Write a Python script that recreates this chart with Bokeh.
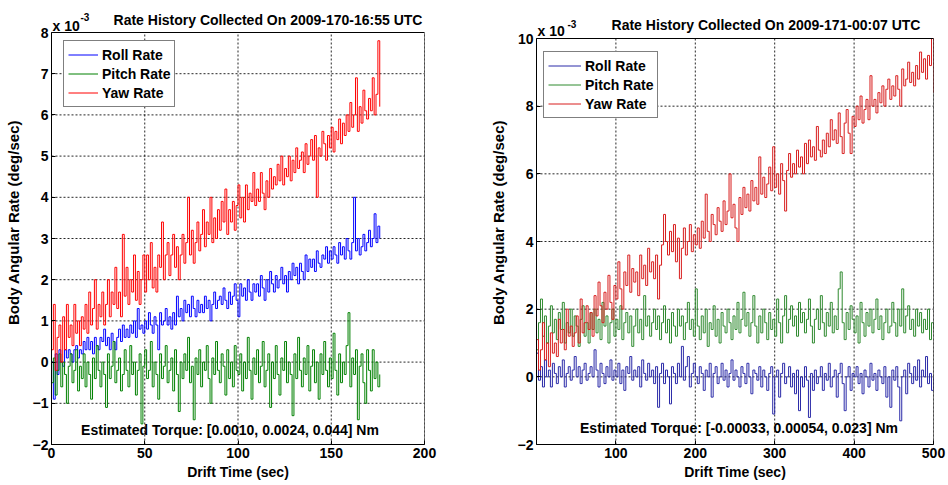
from bokeh.plotting import figure
from bokeh.models import Label, FixedTicker
from bokeh.layouts import row
from bokeh.embed import file_html
from bokeh.resources import INLINE

FONT = "Liberation Sans"

# ---------------- left panel (2009-170-16:55), values in 1e-3 deg/sec ----------------
left_title = "Rate History Collected On 2009-170-16:55 UTC"
left_torque = "Estimated Torque: [0.0010, 0.0024, 0.044] Nm"
left_time = list(range(0, 177))
left_roll = [
    0.0, -0.9, 0.2, -0.3, 0.3, 0.0, -0.1, 0.3, 0.1, 0.3,
    0.2, 0.0, 0.3, 0.4, 0.1, 0.3, 0.2, 0.5, 0.3, 0.6,
    0.3, 0.5, 0.2, 0.6, 0.4, 0.3, 0.6, 0.5, 0.8, 0.4,
    0.6, 0.3, 0.7, 0.5, 0.3, 0.6, 0.8, 0.5, 0.9, 0.6,
    0.8, 0.6, 0.9, 0.7, 1.0, 0.6, 1.3, 0.8, 0.9, 0.7,
    1.0, 0.8, 1.2, 0.9, 0.7, 1.1, 0.9, 0.3, 1.2, 0.9,
    1.0, 1.3, 0.9, 1.1, 0.8, 1.2, 0.9, 1.6, 1.1, 1.3,
    1.0, 1.5, 1.2, 1.4, 1.1, 1.6, 1.3, 1.1, 1.5, 1.2,
    1.4, 1.2, 1.6, 1.3, 1.5, 1.0, 1.4, 1.7, 1.3, 1.5,
    1.6, 1.4, 1.8, 1.5, 1.3, 1.7, 1.4, 1.6, 1.9, 1.5,
    1.1, 1.9, 1.6, 1.8, 1.5, 2.0, 1.7, 1.5, 1.9, 1.7,
    1.9, 1.6, 2.1, 1.8, 1.5, 2.0, 1.7, 2.2, 1.9, 1.7,
    2.1, 1.8, 2.0, 2.3, 1.9, 2.1, 1.7, 2.2, 2.0, 2.4,
    2.1, 2.3, 1.9, 2.4, 2.2, 2.0, 2.6, 2.2, 2.5, 2.3,
    2.5, 2.2, 2.7, 2.4, 2.3, 2.6, 2.5, 2.8, 2.4, 2.7,
    2.5, 2.8, 2.6, 2.4, 2.9, 2.6, 2.8, 2.5, 3.0, 2.7,
    2.5, 2.9, 4.0, 2.7, 3.0, 2.6, 2.8, 3.1, 2.7, 2.9,
    3.2, 2.8, 3.0, 3.6, 2.9, 3.3, 3.0,
]
left_pitch = [
    -0.5, 0.1, -0.8, -0.2, 0.2, -0.6, 0.0, -0.3, -1.0, -0.1,
    0.2, -0.5, -0.2, 0.3, -0.7, -0.1, -0.4, 0.2, -0.6, 0.0,
    -0.3, -0.9, 0.1, -0.4, 0.4, -0.2, -0.6, 0.0, -0.3, -1.1,
    0.2, -0.4, -0.1, 0.5, -0.5, -0.2, 0.1, -0.7, -0.3, 0.3,
    -0.2, -0.6, 0.4, -0.3, 0.0, -0.8, -0.2, 0.2, -1.5, -0.1,
    0.3, -0.4, -0.2, 0.5, -0.6, 0.0, -0.3, -0.9, 0.2, -0.4,
    -0.1, 0.4, -0.5, -0.2, 0.1, -0.7, 0.3, -0.3, -1.2, 0.0,
    -0.4, 0.2, -0.2, 0.6, -0.5, -0.1, -1.4, 0.1, -0.3, 0.3,
    -0.6, 0.0, -0.2, 0.4, -0.4, -1.0, 0.1, -0.3, 0.5, -0.2,
    -0.5, 0.2, -0.1, -0.8, 0.3, -0.4, 0.0, -0.6, 0.4, -0.2,
    -0.3, 0.2, -0.7, 0.0, -0.4, 0.6, -0.2, -0.9, 0.1, -0.3,
    0.3, -0.5, -0.1, 0.5, -0.6, -0.2, 0.2, -1.1, 0.0, -0.4,
    0.4, -0.3, -0.8, 0.1, -0.2, 0.5, -0.5, 0.0, -0.3, -1.3,
    0.2, -0.4, 0.6, -0.2, -0.6, 0.1, -0.3, 0.4, -0.7, -0.1,
    0.3, -0.5, 0.0, -0.9, 0.2, -0.3, 0.5, -0.2, -0.6, 0.1,
    -0.4, 0.7, -0.2, -0.8, 0.2, -0.5, 0.0, -0.3, 0.4, 1.2,
    -0.6, 0.1, -0.3, 0.3, -1.4, -0.1, 0.2, -0.5, -1.0, 0.3,
    -0.2, -0.7, 0.3, -0.4, 0.0, -0.6, -0.3,
]
left_yaw = [
    0.3, 1.4, -0.2, 0.6, 0.9, 0.0, 1.1, 0.3, 1.4, 0.6,
    0.9, 0.4, 1.4, 0.7, 1.0, 0.4, 1.1, 0.8, 1.4, 0.7,
    1.7, 0.9, 1.3, 2.0, 0.8, 1.4, 1.1, 1.7, 0.9, 1.4,
    2.0, 1.1, 1.7, 1.4, 2.3, 1.3, 1.7, 1.1, 3.1, 1.6,
    2.3, 1.4, 2.0, 1.7, 2.6, 1.5, 2.2, 1.4, 2.0, 2.6,
    1.7, 2.6, 2.0, 2.9, 1.8, 2.3, 1.7, 2.6, 2.3, 3.4,
    2.0, 2.6, 2.9, 2.1, 2.6, 3.1, 2.3, 2.8, 2.0, 2.6,
    3.1, 2.4, 2.9, 4.0, 2.6, 3.2, 2.4, 2.9, 3.4, 2.7,
    3.1, 3.7, 2.8, 3.4, 3.1, 4.0, 2.9, 3.5, 3.0, 3.7,
    3.2, 3.9, 3.4, 4.2, 3.1, 3.7, 3.4, 3.9, 3.2, 3.8,
    4.3, 3.5, 4.0, 3.4, 4.3, 3.7, 4.1, 3.9, 4.6, 3.8,
    4.2, 3.9, 4.6, 4.1, 3.7, 4.4, 4.0, 4.7, 4.2, 4.5,
    4.3, 4.8, 4.4, 5.0, 4.3, 4.7, 4.5, 5.0, 4.4, 4.9,
    4.6, 5.2, 4.7, 4.9, 5.1, 4.6, 5.3, 4.8, 5.0, 5.4,
    4.9, 5.5, 4.0, 5.2, 5.0, 5.6, 5.3, 4.9, 5.5, 5.2,
    5.7, 5.1, 5.6, 5.4, 5.9, 5.3, 5.8, 5.5, 6.0, 5.6,
    6.3, 5.7, 6.0, 6.9, 5.6, 6.2, 5.8, 6.6, 6.1, 5.9,
    6.4, 6.1, 6.9, 6.0, 6.5, 7.8, 6.2,
]
left_xticks = [0, 50, 100, 150, 200]
left_yticks = [-2, -1, 0, 1, 2, 3, 4, 5, 6, 7, 8]

# ---------------- right panel (2009-171-00:07), values in 1e-3 deg/sec ----------------
right_title = "Rate History Collected On 2009-171-00:07 UTC"
right_torque = "Estimated Torque: [-0.00033, 0.00054, 0.023] Nm"
right_time = [i * 2.5 for i in range(201)]
right_roll = [
    0.7, -0.1, 0.3, -0.3, 0.5, 0.0, 0.2, -0.3, 0.4, 0.1,
    -0.2, 0.3, 0.0, 0.5, -0.3, 0.1, 0.3, -0.1, 0.2, 0.6,
    0.0, 0.3, -0.2, 0.2, 0.4, -0.1, 0.1, 0.3, 0.0, 0.8,
    0.2, -0.3, 0.4, 0.1, -0.2, 0.3, 0.0, 0.5, -0.1, 0.2,
    0.0, 0.4, -0.2, 0.2, -0.4, 0.3, 0.1, 0.6, -0.1, 0.2,
    0.0, 0.3, -0.3, 0.5, 0.1, -0.1, 0.4, 0.0, 0.2, -0.2,
    0.3, -0.9, 0.1, 0.4, -0.2, 0.2, 0.0, -0.8, 0.3, 0.1,
    -0.2, 0.4, 0.0, 0.9, -0.1, 0.3, 0.6, -0.3, 0.1, 0.4,
    0.0, -0.2, 0.3, 0.1, -0.4, 0.2, 0.0, 0.4, -0.6, 0.1,
    0.3, -0.2, 0.0, 0.4, -0.1, 0.2, -0.3, 0.1, 0.5, -0.1,
    0.2, 0.0, -0.3, 0.3, 0.1, -0.2, 0.4, 0.0, -0.5, 0.2,
    0.1, -0.1, 0.3, -0.3, 0.2, 0.0, -0.4, 0.1, 0.3, -1.1,
    0.0, 0.2, -0.6, 0.1, 0.4, -0.2, 0.0, 0.3, -0.3, 0.1,
    -0.5, 0.2, -1.0, 0.0, -0.3, 0.3, -0.1, -1.2, 0.1, -0.4,
    0.2, -0.2, 0.0, 0.3, -0.4, 0.1, -0.1, 0.4, -0.3, 0.0,
    0.2, -0.6, 0.1, 0.4, -0.2, -1.0, 0.0, 0.3, -0.4, 0.1,
    0.0, 0.3, -0.2, 0.1, -0.5, 0.2, 0.0, -0.3, 0.4, -0.1,
    0.1, -0.4, 0.2, 0.0, -0.2, 0.3, -0.6, 0.0, -0.9, 0.2,
    -0.1, 0.3, -0.3, -1.3, 0.0, 0.2, -0.5, 0.4, 0.1, -0.2,
    0.3, -0.1, 0.5, -0.3, 0.2, 0.0, 0.6, -0.2, 0.1, -0.4,
    0.0,
]
right_pitch = [
    0.8, 1.6, 2.3, 1.2, 1.8, 1.0, 1.5, 2.1, 1.3, 1.7,
    1.1, 1.9, 1.4, 2.2, 1.0, 1.6, 1.3, 2.0, 1.2, 1.8,
    1.5, 0.9, 1.7, 2.1, 1.2, 1.6, 1.0, 1.9, 1.4, 2.0,
    1.3, 1.7, 1.1, 2.2, 1.5, 1.8, 1.0, 1.6, 2.0, 1.2,
    1.7, 1.4, 2.1, 1.1, 1.6, 1.9, 1.3, 1.8, 0.9, 1.5,
    2.0, 1.3, 1.7, 1.1, 2.4, 1.5, 1.8, 1.2, 1.6, 2.0,
    1.4, 1.8, 1.1, 1.6, 2.1, 1.3, 1.7, 1.0, 1.9, 1.5,
    1.2, 2.0, 1.5, 1.8, 1.1, 1.6, 2.2, 1.4, 1.7, 1.2,
    2.6, 1.5, 1.1, 1.8, 1.3, 2.0, 0.9, 1.6, 1.4, 2.1,
    1.2, 1.7, 1.0, 1.9, 1.5, 1.3, 2.0, 1.6, 1.1, 1.8,
    1.4, 2.2, 1.3, 1.7, 2.5, 1.5, 1.9, 1.2, 1.6, 2.4,
    1.5, 1.0, 1.8, 1.3, 2.0, 1.6, 1.1, 1.9, 1.4, 1.7,
    1.2, 2.3, 1.6, 1.0, 1.8, 2.4, 1.3, 1.7, 2.1, 1.5,
    1.8, 1.2, 2.2, 1.6, 1.9, 1.3, 1.7, 2.3, 1.5, 1.0,
    1.7, 2.0, 1.4, 2.4, 1.6, 1.2, 1.9, 1.5, 2.2, 1.3,
    1.8, 1.4, 2.6, 3.1, 1.6, 1.1, 1.9, 1.4, 2.1, 1.7,
    1.3, 1.8, 1.0, 2.2, 1.6, 1.2, 1.9, 1.5, 2.0, 1.3,
    1.7, 2.3, 1.4, 1.8, 1.1, 1.6, 2.0, 1.3, 1.5, 2.2,
    1.6, 1.2, 2.0, 1.5, 2.6, 1.3, 1.8, 2.1, 1.4, 1.7,
    1.2, 2.0, 1.5, 1.9, 1.3, 1.7, 1.4, 2.0, 1.1, 1.6,
    1.4,
]
right_yaw = [
    1.1, 0.2, 0.8, 1.6, 0.5, 1.0, 0.3, 1.3, 0.7, 1.0,
    0.6, 1.7, 1.0, 1.4, 0.8, 2.0, 1.2, 1.5, 0.9, 1.3,
    1.8, 1.0, 2.3, 1.3, 1.6, 2.1, 1.4, 1.9, 1.2, 2.4,
    1.8, 2.8, 2.1, 1.6, 2.5, 2.0, 3.0, 2.2, 1.7, 2.7,
    2.3, 3.4, 2.6, 2.0, 3.1, 2.7, 3.6, 2.5, 3.2, 2.8,
    3.1, 2.4, 3.6, 2.9, 3.3, 2.7, 3.8, 3.1, 3.4, 2.9,
    3.6, 2.3, 3.3, 3.9, 4.8, 4.0, 3.6, 4.3, 3.7, 4.5,
    3.4, 4.1, 2.9, 3.8, 4.4, 3.6, 4.0, 4.5, 3.7, 4.2,
    3.9, 4.4, 3.8, 4.6, 4.1, 5.4, 4.3, 4.0, 4.8, 4.5,
    4.2, 5.0, 4.6, 4.3, 5.2, 4.5, 4.9, 6.0, 4.7, 5.1,
    4.4, 4.0, 5.3, 4.8, 5.6, 5.0, 5.4, 4.9, 5.8, 5.2,
    5.6, 5.1, 6.5, 5.4, 5.9, 5.3, 5.7, 6.2, 5.5, 6.8,
    5.6, 6.0, 5.4, 6.3, 5.8, 4.9, 6.1, 6.6, 5.9, 6.3,
    6.0, 6.7, 6.2, 6.5, 6.0, 6.9, 6.3, 7.0, 6.5, 6.8,
    6.4, 7.4, 6.7, 6.5, 7.0, 6.6, 7.2, 6.8, 7.6, 7.0,
    7.3, 6.9, 7.8, 7.1, 6.6, 7.5, 7.9, 7.2, 6.6, 7.7,
    7.4, 8.0, 7.6, 8.3, 7.5, 7.9, 8.2, 7.6, 8.9, 8.0,
    8.2, 7.8, 8.4, 8.1, 8.6, 8.0, 8.5, 8.8, 8.2, 8.6,
    8.3, 8.9, 8.5, 8.0, 9.1, 8.6, 8.8, 9.3, 8.7, 9.0,
    8.6, 9.2, 8.8, 9.6, 9.0, 9.4, 8.8, 9.5, 9.2, 10.0,
    8.4,
]
right_xticks = [100, 200, 300, 400, 500]
right_yticks = [-2, 0, 2, 4, 6, 8, 10]

series_names = ["Roll Rate", "Pitch Rate", "Yaw Rate"]
left_colors = ["#0000ff", "#008000", "#ff0000"]
right_colors = ["#2a2aa8", "#2f8a2f", "#d81e1e"]

FIG_H = 485       # figures start at page y 0 (Bokeh's page has no body margin)


def make_panel(time, series, colors, xr, yr, xticks, yticks, title, torque,
               fig_x0, width, box_l, box_r, box_t, box_b, legend_xy, glyph_w,
               title_dx, title_base, torque_dx, torque_dy, x10_dx, x10_base,
               sup_dx, sup_base):
    # geometry in page pixels; the frame also covers the header strip above
    # the axes box (so header texts are not clipped); the x axis sits below
    ypp = (yr[1] - yr[0]) / (box_b - box_t)
    y_top = yr[1] + box_t * ypp
    p = figure(width=width, height=FIG_H, x_range=xr, y_range=(yr[0], y_top),
               output_backend="svg", toolbar_location=None,
               min_border_left=box_l - fig_x0,
               min_border_right=fig_x0 + width - box_r,
               min_border_top=0, min_border_bottom=FIG_H - box_b)
    p.background_fill_color = "white"
    p.border_fill_color = "white"
    p.outline_line_color = None
    p.grid.visible = False

    # dotted grid
    p.segment(x0=xticks, y0=[yr[0]] * len(xticks), x1=xticks, y1=[yr[1]] * len(xticks),
              line_color="black", line_dash="2 2", line_width=1, line_alpha=0.85)
    p.segment(x0=[xr[0]] * len(yticks), y0=yticks, x1=[xr[1]] * len(yticks), y1=yticks,
              line_color="black", line_dash="2 2", line_width=1, line_alpha=0.85)

    p.xaxis.ticker = FixedTicker(ticks=xticks)
    p.yaxis.ticker = FixedTicker(ticks=yticks)
    p.yaxis.bounds = (yr[0], yr[1])
    for ax in (p.xaxis[0], p.yaxis[0]):
        ax.axis_line_color = "black"
        ax.major_tick_in = 4
        ax.major_tick_out = 0
        ax.minor_tick_line_color = None
        ax.major_tick_line_color = "black"
        ax.major_label_text_font = FONT
        ax.major_label_text_font_size = "14px"
        ax.major_label_text_font_style = "bold"
        ax.major_label_text_color = "black"
        ax.major_label_text_line_height = 1.0
        ax.axis_label_text_font = FONT
        ax.axis_label_text_font_style = "bold"
        ax.axis_label_text_color = "black"
        ax.axis_label_text_line_height = 1.0
    p.xaxis.major_label_standoff = 3
    p.yaxis.major_label_standoff = 3
    p.xaxis.axis_label = "Drift Time (sec)"
    p.xaxis.axis_label_text_font_size = "14px"
    p.xaxis.axis_label_standoff = 3
    p.yaxis.axis_label = "Body Angular Rate (deg/sec)"
    p.yaxis.axis_label_text_font_size = "15px"
    p.yaxis.axis_label_standoff = 8

    for name, vals, c in zip(series_names, series, colors):
        p.step(time[:len(vals)], vals, mode="after", line_color=c,
               line_width=1, legend_label=name)

    # the axes box
    p.quad(left=[xr[0]], right=[xr[1]], bottom=[yr[0]], top=[yr[1]],
           fill_color=None, line_color="black", line_width=1)

    lg = p.legend[0]
    lg.location = (legend_xy[0] - box_l, box_b - legend_xy[1])
    lg.margin = 0
    lg.padding = 4
    lg.spacing = 0
    lg.label_height = 19
    lg.glyph_height = 19
    lg.glyph_width = glyph_w
    lg.label_standoff = 4
    lg.label_text_font = FONT
    lg.label_text_font_size = "14px"
    lg.label_text_font_style = "bold"
    lg.label_text_color = "black"
    lg.border_line_color = "black"
    lg.border_line_width = 1
    lg.background_fill_color = "white"
    lg.background_fill_alpha = 1.0

    xmid = (xr[0] + xr[1]) / 2
    common = dict(text_baseline="alphabetic", text_font=FONT,
                  text_font_style="bold", text_color="black")
    p.add_layout(Label(x=xmid, y=yr[1], x_offset=title_dx, y_offset=box_t - title_base,
                       text=title, text_align="center", text_font_size="14px", **common))
    p.add_layout(Label(x=xmid, y=yr[0], x_offset=torque_dx, y_offset=torque_dy,
                       text=torque, text_align="center", text_font_size="14px", **common))
    p.add_layout(Label(x=xr[0], y=yr[1], x_offset=x10_dx, y_offset=box_t - x10_base,
                       text="x 10", text_align="left", text_font_size="14px", **common))
    p.add_layout(Label(x=xr[0], y=yr[1], x_offset=sup_dx, y_offset=box_t - sup_base,
                       text="-3", text_align="left", text_font_size="10px", **common))
    return p


left = make_panel(left_time, [left_roll, left_pitch, left_yaw], left_colors,
                  (0, 200), (-2, 8), left_xticks, left_yticks, left_title, left_torque,
                  fig_x0=0, width=474, box_l=51, box_r=424, box_t=32, box_b=444,
                  legend_xy=(63, 107), glyph_w=30,
                  title_dx=30, title_base=19, torque_dx=-8, torque_dy=15,
                  x10_dx=1, x10_base=25, sup_dx=29, sup_base=16)

right = make_panel(right_time, [right_roll, right_pitch, right_yaw], right_colors,
                   (0, 500), (-2, 10), right_xticks, right_yticks, right_title, right_torque,
                   fig_x0=474, width=474, box_l=536, box_r=933, box_t=38, box_b=444,
                   legend_xy=(543, 118), glyph_w=33,
                   title_dx=31, title_base=24, torque_dx=4, torque_dy=17,
                   x10_dx=1, x10_base=30, sup_dx=31, sup_base=23)

layout = row(left, right)
open("out.html", "w").write(file_html(layout, INLINE))
